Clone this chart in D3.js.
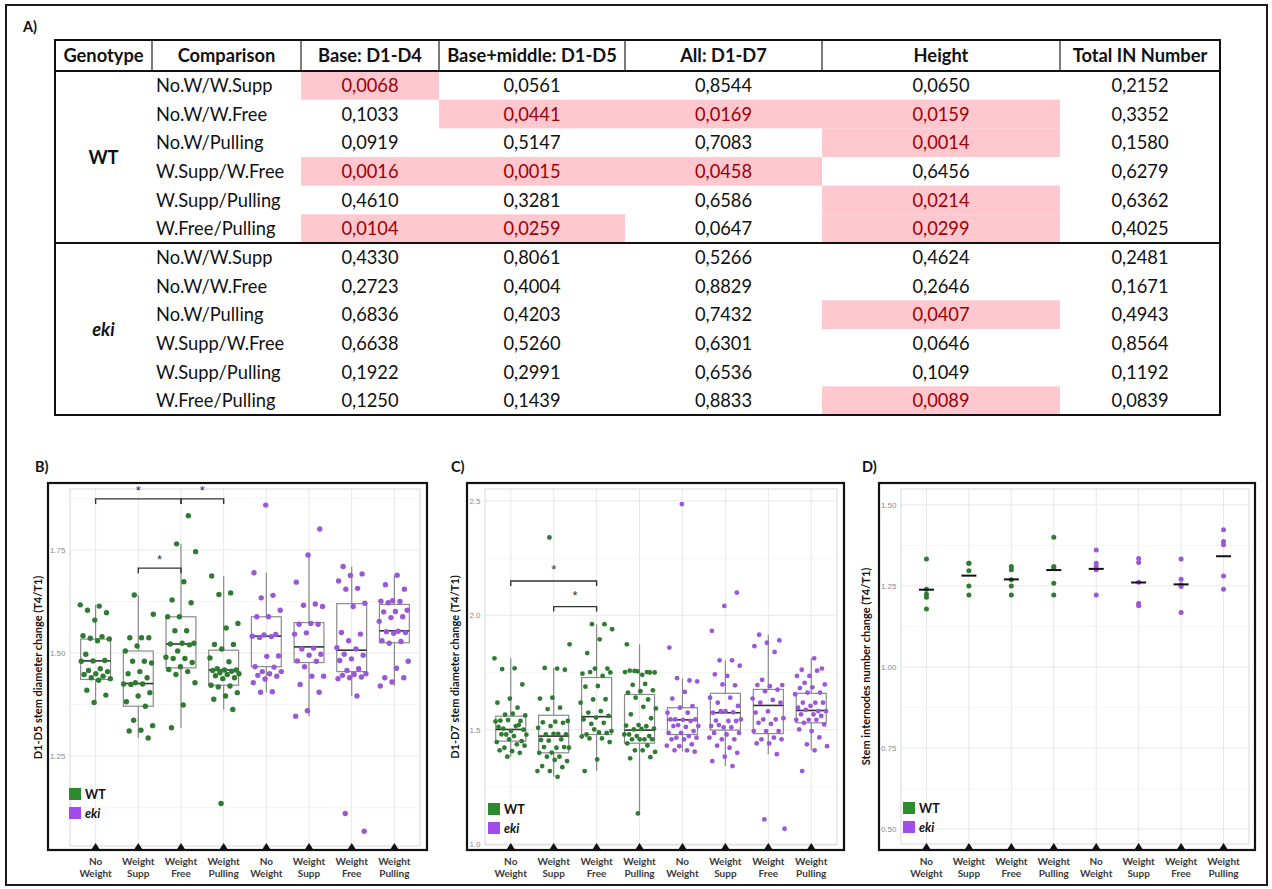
<!DOCTYPE html>
<html>
<head>
<meta charset="utf-8">
<script src="https://cdn.jsdelivr.net/npm/d3@7"></script>
<style>
  body { margin: 0; background: #fff; }
  svg { display: block; }
</style>
</head>
<body>
<script>
// ---------- A) p-value table ----------
const genotypes = ["WT", "eki"];
const comparisons = ["No.W/W.Supp", "No.W/W.Free", "No.W/Pulling", "W.Supp/W.Free", "W.Supp/Pulling", "W.Free/Pulling"];
const columnHeads = ["Genotype", "Comparison", "Base: D1-D4", "Base+middle: D1-D5", "All: D1-D7", "Height", "Total IN Number"];
// rows: WT (6 comparisons) then eki (6 comparisons)
const pBase       = [0.0068, 0.1033, 0.0919, 0.0016, 0.4610, 0.0104, 0.4330, 0.2723, 0.6836, 0.6638, 0.1922, 0.1250];
const pBaseMiddle = [0.0561, 0.0441, 0.5147, 0.0015, 0.3281, 0.0259, 0.8061, 0.4004, 0.4203, 0.5260, 0.2991, 0.1439];
const pAll        = [0.8544, 0.0169, 0.7083, 0.0458, 0.6586, 0.0647, 0.5266, 0.8829, 0.7432, 0.6301, 0.6536, 0.8833];
const pHeight     = [0.0650, 0.0159, 0.0014, 0.6456, 0.0214, 0.0299, 0.4624, 0.2646, 0.0407, 0.0646, 0.1049, 0.0089];
const pTotal      = [0.2152, 0.3352, 0.1580, 0.6279, 0.6362, 0.4025, 0.2481, 0.1671, 0.4943, 0.8564, 0.1192, 0.0839];
const alpha = 0.05;

// ---------- shared plot categories ----------
const treatmentLines = [["No", "Weight"], ["Weight", "Supp"], ["Weight", "Free"], ["Weight", "Pulling"],
                        ["No", "Weight"], ["Weight", "Supp"], ["Weight", "Free"], ["Weight", "Pulling"]];
const groupGenotype = ["WT", "WT", "WT", "WT", "eki", "eki", "eki", "eki"];

// ---------- B) D1-D5 stem diameter change ----------
const diamD1D5 = [
  [1.617, 1.614, 1.604, 1.598, 1.580, 1.542, 1.540, 1.536, 1.534, 1.530, 1.497, 1.482, 1.481, 1.480, 1.462, 1.458, 1.455, 1.450, 1.448, 1.444, 1.440, 1.438, 1.434, 1.410, 1.398, 1.380],
  [1.641, 1.594, 1.537, 1.537, 1.537, 1.517, 1.505, 1.480, 1.480, 1.476, 1.455, 1.450, 1.440, 1.428, 1.425, 1.425, 1.424, 1.404, 1.396, 1.382, 1.371, 1.337, 1.324, 1.313, 1.311, 1.294],
  [1.833, 1.765, 1.746, 1.673, 1.629, 1.622, 1.588, 1.588, 1.554, 1.554, 1.524, 1.524, 1.522, 1.520, 1.505, 1.490, 1.487, 1.487, 1.477, 1.467, 1.460, 1.455, 1.448, 1.428, 1.374, 1.319],
  [1.687, 1.646, 1.642, 1.572, 1.561, 1.521, 1.521, 1.510, 1.488, 1.479, 1.462, 1.459, 1.459, 1.458, 1.456, 1.452, 1.450, 1.448, 1.445, 1.440, 1.438, 1.422, 1.420, 1.418, 1.404, 1.396, 1.388, 1.363, 1.135],
  [1.859, 1.695, 1.640, 1.634, 1.604, 1.588, 1.588, 1.545, 1.544, 1.541, 1.540, 1.538, 1.493, 1.492, 1.467, 1.466, 1.455, 1.455, 1.450, 1.446, 1.444, 1.437, 1.428, 1.406, 1.405],
  [1.801, 1.738, 1.672, 1.619, 1.616, 1.613, 1.572, 1.570, 1.570, 1.549, 1.546, 1.512, 1.510, 1.497, 1.495, 1.481, 1.480, 1.467, 1.444, 1.444, 1.424, 1.405, 1.360, 1.347],
  [1.710, 1.692, 1.688, 1.675, 1.657, 1.655, 1.621, 1.613, 1.550, 1.546, 1.530, 1.513, 1.510, 1.497, 1.495, 1.486, 1.482, 1.462, 1.458, 1.450, 1.448, 1.446, 1.442, 1.440, 1.438, 1.396, 1.111, 1.068],
  [1.689, 1.666, 1.655, 1.627, 1.626, 1.625, 1.622, 1.604, 1.601, 1.600, 1.588, 1.586, 1.577, 1.553, 1.552, 1.550, 1.548, 1.530, 1.528, 1.524, 1.480, 1.463, 1.440, 1.440, 1.430, 1.420]
];
// box statistics: [lower whisker, Q1, median, Q3, upper whisker]
const boxD1D5 = [
  [1.380, 1.436, 1.481, 1.534, 1.617],
  [1.294, 1.371, 1.426, 1.505, 1.641],
  [1.319, 1.464, 1.522, 1.588, 1.765],
  [1.363, 1.422, 1.459, 1.507, 1.687],
  [1.405, 1.467, 1.541, 1.588, 1.695],
  [1.347, 1.477, 1.515, 1.574, 1.738],
  [1.396, 1.455, 1.507, 1.620, 1.710],
  [1.420, 1.525, 1.554, 1.618, 1.689]
];
const sigD1D5 = [{ from: 0, to: 2, level: 1.874 }, { from: 2, to: 3, level: 1.874 }, { from: 1, to: 2, level: 1.706 }];

// ---------- C) D1-D7 stem diameter change ----------
const diamD1D7 = [
  [1.812, 1.768, 1.765, 1.698, 1.636, 1.618, 1.596, 1.566, 1.562, 1.570, 1.540, 1.538, 1.542, 1.536, 1.516, 1.505, 1.500, 1.494, 1.512, 1.520, 1.479, 1.478, 1.472, 1.480, 1.450, 1.458, 1.446, 1.436, 1.421, 1.430, 1.406, 1.410, 1.399, 1.382],
  [2.340, 1.873, 1.767, 1.770, 1.762, 1.640, 1.636, 1.596, 1.590, 1.538, 1.535, 1.532, 1.530, 1.516, 1.508, 1.482, 1.479, 1.479, 1.482, 1.455, 1.458, 1.452, 1.421, 1.421, 1.424, 1.424, 1.400, 1.399, 1.382, 1.382, 1.363, 1.368, 1.341, 1.336, 1.319, 1.319, 1.294],
  [1.961, 1.961, 1.939, 1.895, 1.835, 1.767, 1.767, 1.745, 1.735, 1.752, 1.750, 1.691, 1.688, 1.633, 1.632, 1.618, 1.581, 1.575, 1.560, 1.553, 1.545, 1.530, 1.525, 1.494, 1.488, 1.479, 1.486, 1.501, 1.470, 1.462, 1.462, 1.446, 1.370, 1.319],
  [1.873, 1.752, 1.757, 1.750, 1.740, 1.758, 1.750, 1.755, 1.752, 1.700, 1.696, 1.672, 1.668, 1.662, 1.632, 1.640, 1.593, 1.600, 1.567, 1.550, 1.520, 1.518, 1.515, 1.501, 1.505, 1.503, 1.479, 1.472, 1.472, 1.479, 1.458, 1.458, 1.458, 1.458, 1.440, 1.431, 1.410, 1.403, 1.410, 1.375, 1.380, 1.134],
  [2.486, 1.859, 1.715, 1.725, 1.711, 1.665, 1.636, 1.603, 1.596, 1.574, 1.574, 1.545, 1.545, 1.543, 1.545, 1.538, 1.520, 1.516, 1.512, 1.516, 1.494, 1.486, 1.486, 1.472, 1.465, 1.465, 1.458, 1.458, 1.436, 1.428, 1.430, 1.410, 1.410, 1.404],
  [2.099, 2.041, 1.932, 1.803, 1.803, 1.780, 1.735, 1.742, 1.694, 1.698, 1.640, 1.640, 1.618, 1.604, 1.581, 1.574, 1.576, 1.581, 1.545, 1.538, 1.540, 1.538, 1.510, 1.516, 1.510, 1.520, 1.486, 1.479, 1.486, 1.458, 1.458, 1.465, 1.421, 1.430, 1.399, 1.382, 1.363, 1.341],
  [1.915, 1.890, 1.880, 1.865, 1.840, 1.718, 1.695, 1.690, 1.695, 1.675, 1.668, 1.636, 1.630, 1.618, 1.618, 1.580, 1.575, 1.545, 1.545, 1.550, 1.525, 1.530, 1.494, 1.494, 1.494, 1.465, 1.458, 1.458, 1.440, 1.440, 1.393, 1.108, 1.067],
  [1.812, 1.762, 1.767, 1.735, 1.735, 1.758, 1.705, 1.698, 1.685, 1.682, 1.662, 1.662, 1.655, 1.618, 1.618, 1.618, 1.604, 1.596, 1.581, 1.587, 1.581, 1.567, 1.567, 1.560, 1.543, 1.543, 1.543, 1.530, 1.523, 1.494, 1.501, 1.466, 1.436, 1.428, 1.410, 1.319]
];
const boxD1D7 = [
  [1.382, 1.450, 1.501, 1.559, 1.812],
  [1.294, 1.399, 1.472, 1.563, 1.770],
  [1.319, 1.479, 1.557, 1.728, 1.961],
  [1.134, 1.441, 1.498, 1.654, 1.873],
  [1.404, 1.479, 1.543, 1.596, 1.725],
  [1.341, 1.498, 1.574, 1.659, 1.803],
  [1.393, 1.483, 1.606, 1.676, 1.915],
  [1.410, 1.530, 1.584, 1.659, 1.812]
];
const sigD1D7 = [{ from: 0, to: 2, level: 2.150 }, { from: 1, to: 2, level: 2.038 }];

// ---------- D) stem internodes number change ----------
const internodes = [
  [1.333, 1.240, 1.225, 1.215, 1.179],
  [1.320, 1.320, 1.297, 1.250, 1.222],
  [1.310, 1.300, 1.269, 1.250, 1.222],
  [1.400, 1.310, 1.305, 1.258, 1.222],
  [1.361, 1.320, 1.310, 1.300, 1.222],
  [1.335, 1.322, 1.261, 1.196, 1.189],
  [1.333, 1.271, 1.254, 1.248, 1.168],
  [1.423, 1.387, 1.377, 1.281, 1.240]
];

// ---------- drawing ----------
const W = 1272, H = 889;
const FONT = "Lato, 'Open Sans', sans-serif";
const pointColor = { WT: "#2e7b31", eki: "#9a57d6" };
const keyColor = { WT: "#2f8a2f", eki: "#a24cec" };

const svg = d3.select("body").append("svg")
  .attr("width", W).attr("height", H)
  .style("font-family", FONT);

svg.append("rect").attr("width", W).attr("height", H).attr("fill", "#fff");
svg.append("rect").attr("x", 6).attr("y", 5).attr("width", 1261).attr("height", 880)
  .attr("fill", "none").attr("stroke", "#1a1a1a").attr("stroke-width", 2);

// panel letters
[["A)", 23, 32], ["B)", 35, 472], ["C)", 451, 472], ["D)", 862, 472]].forEach(([t, x, y]) => {
  svg.append("text").attr("x", x).attr("y", y).text(t)
    .attr("font-size", 14.5).attr("font-weight", 700).attr("fill", "#111");
});

// ----- table -----
(function drawTable() {
  const g = svg.append("g");
  const colEdges = [55, 152, 301, 439, 625, 822, 1060, 1220];
  const top = 40, headBottom = 71, bottom = 415;
  const rows = d3.scaleBand().domain(d3.range(genotypes.length * comparisons.length)).range([headBottom, bottom]);
  const pColumns = [pBase, pBaseMiddle, pAll, pHeight, pTotal];
  const fmtP = v => d3.format(".4f")(v).replace(".", ",");
  const fs = 18.3;

  // significant cells
  pColumns.forEach((col, c) => {
    col.forEach((p, r) => {
      if (p < alpha) {
        g.append("rect")
          .attr("x", colEdges[c + 2]).attr("y", rows(r))
          .attr("width", colEdges[c + 3] - colEdges[c + 2]).attr("height", rows.bandwidth())
          .attr("fill", "#ffc7ce");
      }
    });
  });

  // header
  columnHeads.forEach((h, i) => {
    g.append("text").attr("x", (colEdges[i] + colEdges[i + 1]) / 2).attr("y", (top + headBottom) / 2 + 6.5)
      .attr("text-anchor", "middle").attr("font-size", fs).attr("font-weight", 700).attr("fill", "#111").text(h);
  });
  colEdges.slice(1, -1).forEach(x => {
    g.append("line").attr("x1", x).attr("x2", x).attr("y1", top).attr("y2", headBottom)
      .attr("stroke", "#222").attr("stroke-width", 1.2);
  });

  // genotype labels
  genotypes.forEach((gt, k) => {
    const y0 = rows(k * comparisons.length), y1 = rows((k + 1) * comparisons.length - 1) + rows.bandwidth();
    g.append("text").attr("x", (colEdges[0] + colEdges[1]) / 2).attr("y", (y0 + y1) / 2 + 6.5)
      .attr("text-anchor", "middle").attr("font-size", fs).attr("font-weight", 700)
      .attr("font-style", gt === "eki" ? "italic" : "normal").attr("fill", "#111").text(gt);
  });

  // rows
  d3.range(rows.domain().length).forEach(r => {
    const cy = rows(r) + rows.bandwidth() / 2 + 6.5;
    g.append("text").attr("x", colEdges[1] + 4).attr("y", cy)
      .attr("font-size", fs).attr("fill", "#111").text(comparisons[r % comparisons.length]);
    pColumns.forEach((col, c) => {
      g.append("text").attr("x", (colEdges[c + 2] + colEdges[c + 3]) / 2).attr("y", cy)
        .attr("text-anchor", "middle").attr("font-size", fs)
        .attr("fill", col[r] < alpha ? "#9c0006" : "#111").text(fmtP(col[r]));
    });
  });

  // rules
  g.append("line").attr("x1", colEdges[0]).attr("x2", colEdges[colEdges.length - 1])
    .attr("y1", headBottom).attr("y2", headBottom).attr("stroke", "#111").attr("stroke-width", 2);
  const sep = rows(comparisons.length);
  g.append("line").attr("x1", colEdges[0]).attr("x2", colEdges[colEdges.length - 1])
    .attr("y1", sep).attr("y2", sep).attr("stroke", "#111").attr("stroke-width", 2);
  g.append("rect").attr("x", colEdges[0]).attr("y", top)
    .attr("width", colEdges[colEdges.length - 1] - colEdges[0]).attr("height", bottom - top)
    .attr("fill", "none").attr("stroke", "#111").attr("stroke-width", 2);
})();

// ----- dot / box panels -----
function drawPanel(cfg) {
  const g = svg.append("g");
  const [l, t, r, b] = cfg.inner;
  const x = d3.scalePoint().domain(d3.range(treatmentLines.length)).range([l, r]).padding(0.6);
  const y = d3.scaleLinear().domain(cfg.domain).range([b, t]);

  // grid
  g.selectAll(null).data(cfg.minor).join("line")
    .attr("x1", l).attr("x2", r).attr("y1", d => y(d)).attr("y2", d => y(d))
    .attr("stroke", "#f3f3f3").attr("stroke-width", 0.8);
  g.selectAll(null).data(cfg.ticks).join("line")
    .attr("x1", l).attr("x2", r).attr("y1", d => y(d)).attr("y2", d => y(d))
    .attr("stroke", "#e8e8e8").attr("stroke-width", 1);
  g.selectAll(null).data(x.domain()).join("line")
    .attr("x1", d => x(d)).attr("x2", d => x(d)).attr("y1", t).attr("y2", b)
    .attr("stroke", "#e8e8e8").attr("stroke-width", 1);
  g.append("rect").attr("x", l).attr("y", t).attr("width", r - l).attr("height", b - t)
    .attr("fill", "none").attr("stroke", "#d8d8d8").attr("stroke-width", 1);

  // y axis
  const ax = g.append("g").attr("transform", `translate(${l},0)`)
    .call(d3.axisLeft(y).tickValues(cfg.ticks).tickFormat(d3.format(cfg.fmt)).tickSize(0).tickPadding(4.5));
  ax.select(".domain").remove();
  ax.selectAll("text").attr("fill", "#8a8a8a").attr("font-size", 8)
    .attr("font-family", "'Liberation Sans', Arial, sans-serif");

  // boxes
  const hw = x.step() * 0.35;
  if (cfg.boxes) {
    cfg.boxes.forEach((s, i) => {
      const cx = x(i);
      const bg = g.append("g").attr("stroke", "#8a8a8a").attr("stroke-width", 1.2).attr("fill", "none");
      bg.append("line").attr("x1", cx).attr("x2", cx).attr("y1", y(s[0])).attr("y2", y(s[1]));
      bg.append("line").attr("x1", cx).attr("x2", cx).attr("y1", y(s[3])).attr("y2", y(s[4]));
      bg.append("rect").attr("x", cx - hw).attr("y", y(s[3])).attr("width", 2 * hw).attr("height", y(s[1]) - y(s[3]));
      bg.append("line").attr("x1", cx - hw).attr("x2", cx + hw).attr("y1", y(s[2])).attr("y2", y(s[2]))
        .attr("stroke", "#333").attr("stroke-width", 1.6);
    });
  }

  // points (evenly spread jitter)
  cfg.values.forEach((vals, i) => {
    const col = pointColor[groupGenotype[i]];
    g.selectAll(null).data(vals).join("circle")
      .attr("cx", (d, j) => x(i) + (cfg.jitter ? ((((j * 0.6180339887) + i * 0.37) % 1) - 0.5) * 2 * cfg.jitter * x.step() : 0))
      .attr("cy", d => y(d))
      .attr("r", cfg.r)
      .attr("fill", col);
  });

  // group means
  if (cfg.means) {
    cfg.values.forEach((vals, i) => {
      const m = d3.mean(vals);
      g.append("line").attr("x1", x(i) - 7.5).attr("x2", x(i) + 7.5).attr("y1", y(m)).attr("y2", y(m))
        .attr("stroke", "#111").attr("stroke-width", 2);
    });
  }

  // significance brackets
  (cfg.brackets || []).forEach(bk => {
    const x1 = x(bk.from), x2 = x(bk.to), yy = y(bk.level);
    g.append("path").attr("d", `M${x1},${yy + 5}V${yy}H${x2}V${yy + 5}`)
      .attr("fill", "none").attr("stroke", "#333").attr("stroke-width", 1.4);
    g.append("text").attr("x", (x1 + x2) / 2).attr("y", yy - cfg.starGap)
      .attr("text-anchor", "middle").attr("font-size", 13).attr("fill", "#333")
      .attr("font-family", "'Liberation Sans', Arial, sans-serif").text("*");
  });

  // frame
  const [fx0, fy0, fx1, fy1] = cfg.frame;
  g.append("rect").attr("x", fx0).attr("y", fy0).attr("width", fx1 - fx0).attr("height", fy1 - fy0)
    .attr("fill", "none").attr("stroke", "#111").attr("stroke-width", 2.2);

  // category markers and labels
  x.domain().forEach(i => {
    const cx = x(i);
    g.append("path").attr("d", `M${cx - 4.5},${fy1}L${cx + 4.5},${fy1}L${cx},${fy1 - 7}Z`).attr("fill", "#111");
    const tx = g.append("text").attr("x", cx).attr("y", fy1 + 15)
      .attr("text-anchor", "middle").attr("font-size", 10).attr("font-weight", 700).attr("fill", "#3a3a3a");
    treatmentLines[i].forEach((ln, k) => {
      tx.append("tspan").attr("x", cx).attr("dy", k === 0 ? 0 : 12).text(ln);
    });
  });

  // legend
  genotypes.forEach((gt, k) => {
    const ly = cfg.legend[1] + k * 19;
    g.append("rect").attr("x", cfg.legend[0]).attr("y", ly).attr("width", 12).attr("height", 12).attr("fill", keyColor[gt]);
    g.append("text").attr("x", cfg.legend[0] + 16).attr("y", ly + 10.5)
      .attr("font-size", 12.5).attr("font-weight", 700).attr("font-style", gt === "eki" ? "italic" : "normal")
      .attr("fill", "#111").text(gt);
  });

  // y title
  g.append("text").attr("transform", `translate(${cfg.titleX},${(t + b) / 2}) rotate(-90)`)
    .attr("text-anchor", "middle").attr("font-size", 11).attr("font-weight", 700).attr("fill", "#111")
    .text(cfg.title);
}

drawPanel({
  inner: [70, 489, 420, 846], frame: [48, 483, 427, 850],
  domain: [1.032, 1.898], ticks: [1.25, 1.5, 1.75], minor: [1.125, 1.375, 1.625, 1.875], fmt: ".2f",
  values: diamD1D5, boxes: boxD1D5, brackets: sigD1D5, starGap: 4, jitter: 0.36, r: 2.7,
  legend: [69, 788], titleX: 42, title: "D1-D5 stem diameter change (T4/T1)"
});

drawPanel({
  inner: [485, 489, 837, 845], frame: [467, 483, 844, 850],
  domain: [0.996, 2.552], ticks: [1.0, 1.5, 2.0, 2.5], minor: [1.25, 1.75, 2.25], fmt: ".1f",
  values: diamD1D7, boxes: boxD1D7, brackets: sigD1D7, starGap: 7, jitter: 0.38, r: 2.4,
  legend: [488, 803], titleX: 459, title: "D1-D7 stem diameter change (T4/T1)"
});

drawPanel({
  inner: [901, 489, 1249, 844], frame: [879, 483, 1255, 850],
  domain: [0.454, 1.549], ticks: [0.5, 0.75, 1.0, 1.25, 1.5], minor: [0.625, 0.875, 1.125, 1.375], fmt: ".2f",
  values: internodes, means: true, jitter: 0, r: 2.5,
  legend: [903, 802], titleX: 870, title: "Stem internodes number change (T4/T1)"
});
</script>
</body>
</html>
